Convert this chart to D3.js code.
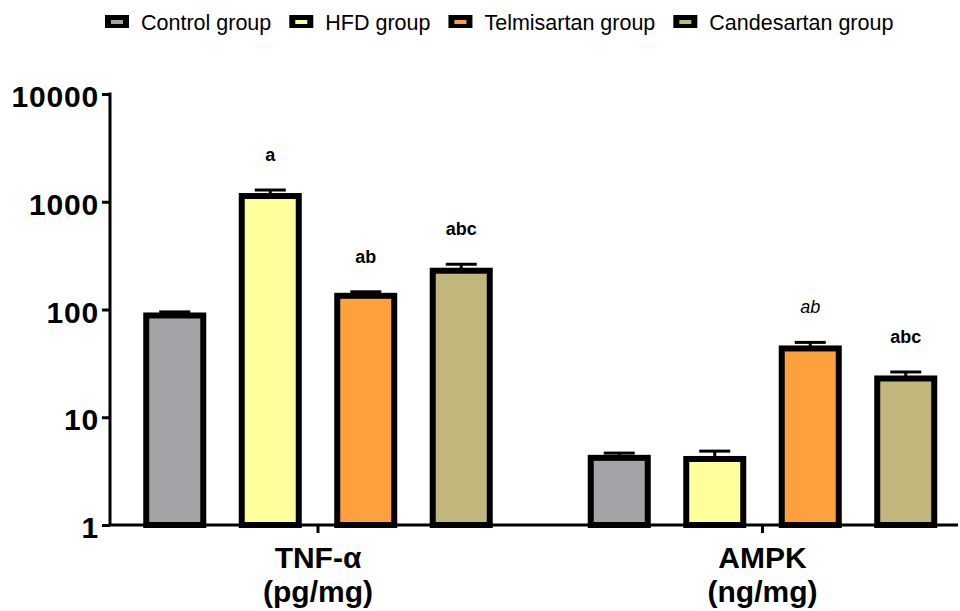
<!DOCTYPE html>
<html>
<head>
<meta charset="utf-8">
<script src="https://cdn.jsdelivr.net/npm/d3@7"></script>
<style>
  html, body { margin: 0; padding: 0; background: #ffffff; }
  svg { display: block; font-family: "Liberation Sans", Arial, Helvetica, sans-serif; }
</style>
</head>
<body>
<svg id="chart" width="960" height="611"></svg>
<script>
// Markers and units
const groups = ["TNF-α", "AMPK"];
const groupUnits = ["(pg/mg)", "(ng/mg)"];
const series = ["Control group", "HFD group", "Telmisartan group", "Candesartan group"];
const colors = ["#a4a3a8", "#ffff9c", "#ffa03e", "#c1b67b"];

// Means and SEM per group (rows follow the series order)
const tnfMeans = [88, 1130, 134, 229];
const tnfErrors = [7, 155, 12, 34];
const ampkMeans = [4.2, 4.1, 43.5, 22.9];
const ampkErrors = [0.45, 0.75, 6, 3.4];

// Significance letters and whether each is set in italic
const tnfLetters = ["", "a", "ab", "abc"];
const ampkLetters = ["", "", "ab", "abc"];
const tnfItalic = [false, false, false, false];
const ampkItalic = [false, false, true, false];

const yTicks = [1, 10, 100, 1000, 10000];

const means = [tnfMeans, ampkMeans];
const errors = [tnfErrors, ampkErrors];
const letters = [tnfLetters, ampkLetters];
const italics = [tnfItalic, ampkItalic];

const svg = d3.select("#chart");

const y = d3.scaleLog().domain([1, 10000]).range([525, 94]);
const xGroup = d3.scalePoint().domain(groups).range([318, 762.5]);
const xBar = d3.scaleBand().domain(series).range([-191, 191])
  .paddingInner(0.403).paddingOuter(0.2015);

const barStroke = 6;

// Bars, error bars and letters
groups.forEach((g, gi) => {
  const gx = xGroup(g);
  const layer = svg.append("g").attr("transform", `translate(${gx},0)`);
  series.forEach((s, si) => {
    const v = means[gi][si];
    const e = errors[gi][si];
    const cx = xBar(s) + xBar.bandwidth() / 2;
    const top = y(v + e);
    // error bar (upper only)
    layer.append("line")
      .attr("x1", cx).attr("x2", cx)
      .attr("y1", y(v)).attr("y2", top)
      .attr("stroke", "#000").attr("stroke-width", 3);
    layer.append("line")
      .attr("x1", cx - 15.5).attr("x2", cx + 15.5)
      .attr("y1", top).attr("y2", top)
      .attr("stroke", "#000").attr("stroke-width", 3);
    layer.append("rect")
      .attr("x", xBar(s))
      .attr("y", y(v))
      .attr("width", xBar.bandwidth())
      .attr("height", y(1) - y(v))
      .attr("fill", colors[si])
      .attr("stroke", "#000")
      .attr("stroke-width", barStroke);
    const lab = letters[gi][si];
    if (lab) {
      const it = italics[gi][si];
      layer.append("text")
        .attr("x", cx)
        .attr("y", top - 29)
        .attr("text-anchor", "middle")
        .attr("font-size", 18)
        .attr("font-weight", it ? "normal" : "bold")
        .attr("font-style", it ? "italic" : "normal")
        .attr("fill", "#000")
        .text(lab);
    }
  });
});

// Y axis
const yAxis = d3.axisLeft(y)
  .tickValues(yTicks)
  .tickFormat(d3.format("d"))
  .tickSizeInner(8)
  .tickSizeOuter(0)
  .tickPadding(3);
const yg = svg.append("g").attr("transform", "translate(110,0)").call(yAxis);
yg.select(".domain").attr("stroke", "#000").attr("stroke-width", 3);
yg.selectAll(".tick line").attr("stroke", "#000").attr("stroke-width", 3);
yg.selectAll(".tick text")
  .attr("font-family", "'Liberation Sans', Arial, sans-serif")
  .attr("font-size", 30)
  .attr("font-weight", "bold")
  .attr("letter-spacing", 0.8)
  .attr("fill", "#000")
  .attr("dy", "0.42em");
yg.select(".domain").attr("d", `M0,${y(10000) - 1.5}V${y(1)}`);

// X axis line with ticks at the group centres
const xg = svg.append("g");
xg.append("line")
  .attr("x1", 108.5).attr("x2", 958)
  .attr("y1", y(1)).attr("y2", y(1))
  .attr("stroke", "#000").attr("stroke-width", 3);
groups.forEach((g, gi) => {
  const gx = xGroup(g);
  xg.append("line")
    .attr("x1", gx).attr("x2", gx)
    .attr("y1", y(1)).attr("y2", y(1) + 8)
    .attr("stroke", "#000").attr("stroke-width", 3);
  const t = xg.append("text")
    .attr("x", gx)
    .attr("text-anchor", "middle")
    .attr("font-size", 30)
    .attr("font-weight", "bold")
    .attr("fill", "#000");
  t.append("tspan").attr("x", gx).attr("y", 568).text(g);
  t.append("tspan").attr("x", gx).attr("y", 602).text(groupUnits[gi]);
});

// Legend across the top
const legend = svg.append("g");
let lx = 105;
series.forEach((s, si) => {
  const item = legend.append("g").attr("transform", `translate(${lx},0)`);
  item.append("rect")
    .attr("x", 0).attr("y", 15)
    .attr("width", 24).attr("height", 13)
    .attr("fill", "#000");
  item.append("rect")
    .attr("x", 6).attr("y", 20)
    .attr("width", 12).attr("height", 4)
    .attr("fill", colors[si]);
  const t = item.append("text")
    .attr("x", 36).attr("y", 30)
    .attr("font-size", 21.5)
    .attr("fill", "#000")
    .text(s);
  lx += 36 + t.node().getComputedTextLength() + 18;
});
</script>
</body>
</html>
